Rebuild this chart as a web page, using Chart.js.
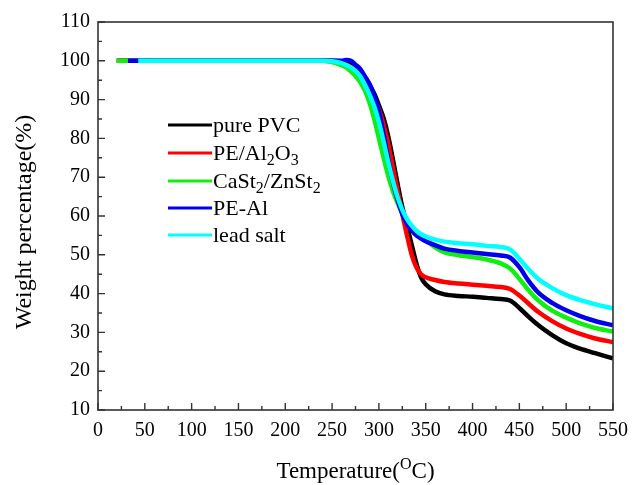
<!DOCTYPE html>
<html>
<head>
<meta charset="utf-8">
<script src="https://cdn.jsdelivr.net/npm/chart.js@4.4.1/dist/chart.umd.min.js"></script>
<style>
  html, body { margin: 0; padding: 0; background: #fff; }
  #wrap { width: 637px; height: 485px; }
</style>
</head>
<body>
<div id="wrap"><canvas id="tgaChart" width="637" height="485"></canvas></div>
<script>
// temperature grid (°C) shared by all the TGA curves
const temps = [20, 32, 43, 240, 250, 260, 265, 270, 275, 280, 285, 290, 295, 300, 305, 310, 315, 320, 325, 330,
  335, 340, 345, 350, 360, 370, 385, 400, 415, 430, 440, 450, 460, 470, 485, 500, 515, 530, 550];

// weight percentage (%) for each sample
const purePVC = [100, 100, 100, 100, 100, 99.9, 99.6, 99, 98.2, 97.2, 95.8, 93.8, 91.5, 88.5, 85.2, 80.5, 74.5, 68.2, 62.3, 57.5,
  52.6, 47.8, 44.2, 42.4, 40.6, 39.8, 39.4, 39.2, 38.9, 38.6, 38.2, 36.3, 34, 31.9, 29.3, 27.2, 25.8, 24.7, 23.3];
const peAl2O3 = [100, 100, 100, 100, 99.9, 99.5, 99, 98.4, 97.5, 96.4, 95, 92.8, 90.2, 87.5, 83.5, 78.5, 72.5, 66.5, 60.5, 55,
  50, 46.8, 45, 44.2, 43.5, 43, 42.6, 42.3, 42, 41.7, 41.2, 39.5, 37.4, 35.3, 32.9, 31, 29.6, 28.5, 27.5];
const caZnSt = [100, 100, 100, 100, 99.7, 98.9, 98.3, 97.3, 96.1, 94.5, 92.3, 89.2, 85, 80, 75, 70.3, 66.4, 63.3, 60.7, 58.6,
  56.8, 55.5, 54.6, 53.8, 51.9, 50.6, 49.9, 49.4, 48.8, 47.8, 46.5, 43.8, 40.8, 38.3, 35.6, 33.8, 32.3, 31.2, 30.2];
const peAl = [null, 100, 100, 100, 100, 100, 100.2, 100, 99, 97.9, 96, 94, 91, 87, 81, 74.5, 68.7, 64, 60.5, 58,
  56.3, 55, 54.2, 53.5, 52.5, 51.6, 51, 50.6, 50.2, 49.8, 49.3, 46.8, 43.2, 40.3, 37.6, 35.7, 34.2, 33, 31.8];
const leadSalt = [null, null, 100, 100, 99.9, 99.4, 98.9, 98.3, 97.4, 96, 93.8, 91.3, 88.2, 84.2, 79.2, 73.8, 69, 64.8, 61.6, 59.2,
  57.5, 56.2, 55.3, 54.7, 53.9, 53.4, 53, 52.7, 52.3, 52, 51.4, 49, 46.2, 43.8, 41.4, 39.6, 38.3, 37.3, 36.2];

// legend entries: [text, subscript] pieces
const legendItems = [
  { color: '#000000', parts: [['pure PVC', false]] },
  { color: '#ff0000', parts: [['PE/Al', false], ['2', true], ['O', false], ['3', true]] },
  { color: '#11ee11', parts: [['CaSt', false], ['2', true], ['/ZnSt', false], ['2', true]] },
  { color: '#0000ee', parts: [['PE-Al', false]] },
  { color: '#00ffff', parts: [['lead salt', false]] }
];

const FONT = '"Liberation Serif", "Times New Roman", serif';
const AXIS = '#333333';

function series(values) {
  return temps.map((t, i) => ({ x: t, y: values[i] }));
}

function makeSet(values, color, order) {
  return {
    data: series(values),
    borderColor: color,
    backgroundColor: color,
    borderWidth: 4.5,
    pointRadius: 0,
    cubicInterpolationMode: 'monotone',
    spanGaps: false,
    order: order
  };
}

// frame, inward ticks, legend and axis titles
const decorations = {
  id: 'decorations',
  afterDraw(chart) {
    const ctx = chart.ctx;
    const a = chart.chartArea;
    const xs = chart.scales.x;
    const ys = chart.scales.y;
    ctx.save();

    ctx.strokeStyle = AXIS;
    ctx.lineWidth = 1.6;
    ctx.strokeRect(a.left, a.top, a.right - a.left, a.bottom - a.top);

    ctx.lineWidth = 1.4;
    ctx.beginPath();
    for (let t = 0; t <= 550; t += 25) {
      const px = xs.getPixelForValue(t);
      const len = t % 50 === 0 ? 7 : 4;
      ctx.moveTo(px, a.bottom);
      ctx.lineTo(px, a.bottom - len);
    }
    for (let w = 10; w <= 110; w += 5) {
      const py = ys.getPixelForValue(w);
      const len = w % 10 === 0 ? 7 : 4;
      ctx.moveTo(a.left, py);
      ctx.lineTo(a.left + len, py);
    }
    ctx.stroke();

    // legend
    ctx.textBaseline = 'alphabetic';
    ctx.textAlign = 'left';
    const rows = [125, 153, 181, 208, 235];
    legendItems.forEach((item, i) => {
      const y = rows[i];
      ctx.strokeStyle = item.color;
      ctx.lineWidth = 3;
      ctx.beginPath();
      ctx.moveTo(168, y);
      ctx.lineTo(212, y);
      ctx.stroke();
      let x = 213;
      ctx.fillStyle = '#000';
      item.parts.forEach(([txt, sub]) => {
        ctx.font = (sub ? '16px ' : '22px ') + FONT;
        ctx.fillText(txt, x, y + (sub ? 12 : 7));
        x += ctx.measureText(txt).width;
      });
    });

    // x title with superscript degree mark
    ctx.fillStyle = '#000';
    const big = '23px ' + FONT;
    const small = '16px ' + FONT;
    ctx.font = big;
    const w1 = ctx.measureText('Temperature(').width;
    const w3 = ctx.measureText('C)').width;
    ctx.font = small;
    const w2 = ctx.measureText('O').width;
    let x0 = (a.left + a.right) / 2 - (w1 + w2 + w3) / 2;
    ctx.font = big;
    ctx.fillText('Temperature(', x0, 478);
    ctx.font = small;
    ctx.fillText('O', x0 + w1, 469);
    ctx.font = big;
    ctx.fillText('C)', x0 + w1 + w2, 478);

    // y title
    ctx.translate(25, 222);
    ctx.rotate(-Math.PI / 2);
    ctx.textAlign = 'center';
    ctx.textBaseline = 'middle';
    ctx.font = '24px ' + FONT;
    ctx.fillText('Weight percentage(%)', 0, 0);
    ctx.restore();
  }
};

new Chart(document.getElementById('tgaChart').getContext('2d'), {
  type: 'line',
  data: {
    datasets: [
      makeSet(purePVC, '#000000', 5),
      makeSet(peAl2O3, '#ff0000', 4),
      makeSet(caZnSt, '#11ee11', 3),
      makeSet(peAl, '#0000ee', 2),
      makeSet(leadSalt, '#00ffff', 1)
    ]
  },
  options: {
    responsive: false,
    animation: false,
    layout: { padding: { top: 22, right: 19, left: 0, bottom: 0 } },
    plugins: {
      legend: { display: false },
      tooltip: { enabled: false }
    },
    scales: {
      x: {
        type: 'linear',
        min: 0,
        max: 550,
        grid: { display: false, drawTicks: false },
        border: { display: false },
        ticks: { stepSize: 50, padding: 9, color: '#000', maxRotation: 0, font: { family: FONT, size: 20 } },
        afterFit(scale) { scale.height = 75; }
      },
      y: {
        min: 10,
        max: 110,
        grid: { display: false, drawTicks: false },
        border: { display: false },
        ticks: { stepSize: 10, padding: 8, color: '#000', font: { family: FONT, size: 20 } },
        afterFit(scale) { scale.width = 98; }
      }
    }
  },
  plugins: [decorations]
});
</script>
</body>
</html>
